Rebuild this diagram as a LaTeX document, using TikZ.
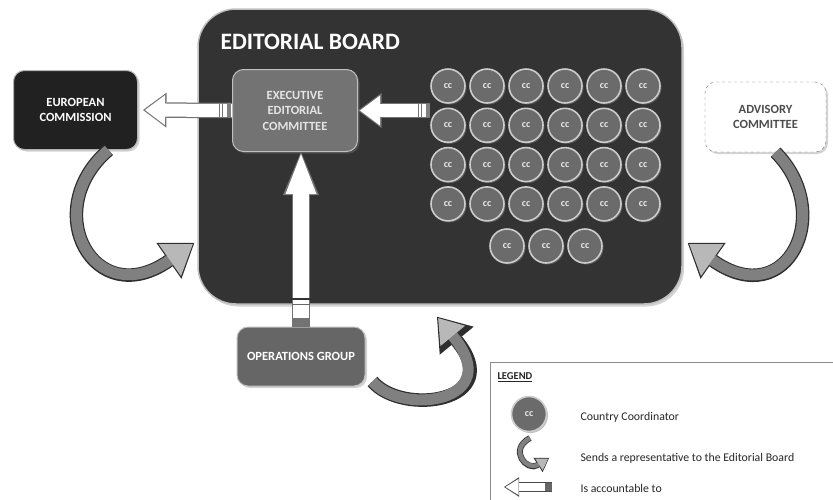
\documentclass[tikz,border=0pt]{standalone}
\usepackage{fontspec}
\setmainfont{Carlito}
\usetikzlibrary{arrows.meta,calc,shadows}

\tikzset{
  box/.style={rounded corners=11pt, align=center, text=white, inner sep=2pt,
    font=\bfseries\fontsize{12.5}{15.5}\selectfont,
    drop shadow={shadow xshift=2pt, shadow yshift=-2pt, opacity=0.35}},
  ccnode/.style={circle, minimum size=34pt, inner sep=0pt, fill=black!58, draw=black!20,
    line width=1.6pt, text=white!92!black, font=\bfseries\fontsize{10}{10}\selectfont,
    drop shadow={shadow xshift=1.5pt, shadow yshift=-1.5pt, opacity=0.5}},
  accarrow/.style={white, line width=13pt, shorten >=2pt,
    -{Triangle[length=20pt, width=30pt, line width=0pt]},
    preaction={draw=black!55, line width=15.5pt, shorten >=0pt,
      -{Triangle[length=23.5pt, width=35pt, line width=0pt]}}},
  repband/.style={draw=black!50, line width=11pt, shorten >=1.8pt,
    -{Triangle[length=28pt, width=39pt, line width=0pt, color=black!28]},
    preaction={draw=black!82, line width=13.5pt, shorten >=0pt,
      -{Triangle[length=31pt, width=44pt, line width=0pt]}}},
  legtext/.style={anchor=west, font=\fontsize{11.8}{14}\selectfont, text=black!85},
  tabmark/.pic={
    \fill[black!50] (-4,-6.5) rectangle (0,6.5);
    \draw[black!55, line width=1pt] (-9,-6.5) -- (-9,6.5);
    \draw[black!55, line width=1pt] (-12,-6.5) -- (-12,6.5);
  }
}

\begin{document}
\begin{tikzpicture}[x=1pt, y=-1pt]
  \useasboundingbox (0,0) rectangle (833,499);

  % editorial board
  \node[rounded corners=38pt, fill=black!80, draw=black!25, line width=1.5pt,
    minimum width=484pt, minimum height=295pt,
    drop shadow={shadow xshift=2pt, shadow yshift=-2.5pt, opacity=0.35}] (board) at (440,156.5) {};
  \node[anchor=base west, text=white, font=\bfseries\fontsize{23.5}{26}\selectfont] (title) at (217,49) {EDITORIAL BOARD};

  % bodies
  \node[box, fill=black!87, draw=black!30, line width=1pt, minimum width=124pt, minimum height=79pt] (ec) at (75.5,110) {EUROPEAN\\COMMISSION};
  \node[box, fill=black!55, draw=black!25, line width=1pt, text=white!90!black, minimum width=125pt, minimum height=82pt] (exec) at (295,110.5) {EXECUTIVE\\EDITORIAL\\COMMITTEE};
  \node[box, fill=white, draw=black!55, dashed, text=black!70, minimum width=121pt, minimum height=70pt] (adv) at (765.5,117) {ADVISORY\\COMMITTEE};
  \node[box, fill=black!60, draw=black!25, line width=1pt, minimum width=128pt, minimum height=59pt] (ops) at (301,356.5) {OPERATIONS GROUP};

  % country coordinators
  \foreach \r in {1,...,4}
    \foreach \c in {1,...,6}
      \node[ccnode] (cc-\r-\c) at ({448+39*(\c-1)}, {86+39.3*(\r-1)}) {cc};
  \foreach \c in {1,2,3}
    \node[ccnode] (cc-5-\c) at ({507+39*(\c-1)}, 246) {cc};

  % is accountable to
  \draw[accarrow] (cc-1-1.west |- exec.east) -- (exec.east);
  \pic at (cc-1-1.west |- exec.east) {tabmark};
  \coordinate (ecin) at ($(ec.east)+(5,0)$);
  \draw[accarrow] (exec.west) -- (ecin);
  \pic at ($(exec.west)+(-1,0)$) {tabmark};
  \draw[white, line width=16pt, shorten >=2pt, -{Triangle[length=40pt, width=31pt, line width=0pt]},
    preaction={draw=black!55, line width=18.5pt, shorten >=0pt, -{Triangle[length=43pt, width=36pt, line width=0pt]}}]
    (ops.north) -- (ops.north |- exec.south);
  \fill[black!55] ($(ops.north)+(-8,-9)$) rectangle ($(ops.north)+(8,0)$);
  \draw[black!60, line width=1pt] ($(ops.north)+(-9,-22)$) -- +(18,0);
  \fill[black!80] ($(ops.north)+(-9,-27)$) rectangle ($(ops.north)+(9,-29)$);

  % sends a representative
  \draw[repband] ($(ec.south)+(33,0)$) .. controls +(-70,60) and +(-100,70) .. ($(board.west)+(-3,86.5)$);
  \draw[repband] ($(adv.south)+(10,0)$) .. controls +(60,60) and +(100,70) .. ($(board.east)+(5,86.5)$);
  \draw[repband, -{Triangle[length=23pt, width=32pt, line width=0pt, color=black!28]},
    preaction={-{Triangle[length=26pt, width=37pt, line width=0pt]}}]
    ($(ops.south east)+(7,-5)$) .. controls +(30,35) and +(70,85) .. ($(board.south)+(-3,12)$);

  % legend
  \node[anchor=north west, draw=black!45, line width=0.8pt, fill=white, minimum width=360pt, minimum height=150pt,
    drop shadow={shadow xshift=1.5pt, shadow yshift=-1.5pt, opacity=0.3}] (legend) at (490,362) {};
  \node[anchor=west, font=\bfseries\fontsize{10.5}{12}\selectfont, text=black!85] (legtitle) at (494,377) {\underline{LEGEND}};
  \node[ccnode, minimum size=35pt] (legcc) at (529,414) {cc};
  \node[legtext] (legcctext) at (577,417) {Country Coordinator};
  \coordinate (legsrc) at (530,438);
  \coordinate (legdst) at (549,458);
  \draw[draw=black!50, line width=4.5pt, shorten >=1pt,
    -{Triangle[length=11pt, width=14pt, line width=0pt, color=black!28]},
    preaction={draw=black!82, line width=6pt, shorten >=0pt, -{Triangle[length=13pt, width=17pt, line width=0pt]}}]
    (legsrc) .. controls +(-22,12) and +(-22,14) .. (legdst);
  \node[legtext] (legreptext) at (577,458) {Sends a representative to the Editorial Board};
  \coordinate (legtail) at (552,487);
  \coordinate (leghead) at (504,487);
  \draw[white, line width=8pt, shorten >=1.5pt, -{Triangle[length=13pt, width=16pt, line width=0pt]},
    preaction={draw=black!70, line width=10pt, shorten >=0pt, -{Triangle[length=15pt, width=19.5pt, line width=0pt]}}]
    (legtail) -- (leghead);
  \fill[black!60] ($(legtail)+(-7,-4)$) rectangle ($(legtail)+(0,4)$);
  \node[legtext] (legacctext) at (577,488) {Is accountable to};
\end{tikzpicture}
\end{document}
